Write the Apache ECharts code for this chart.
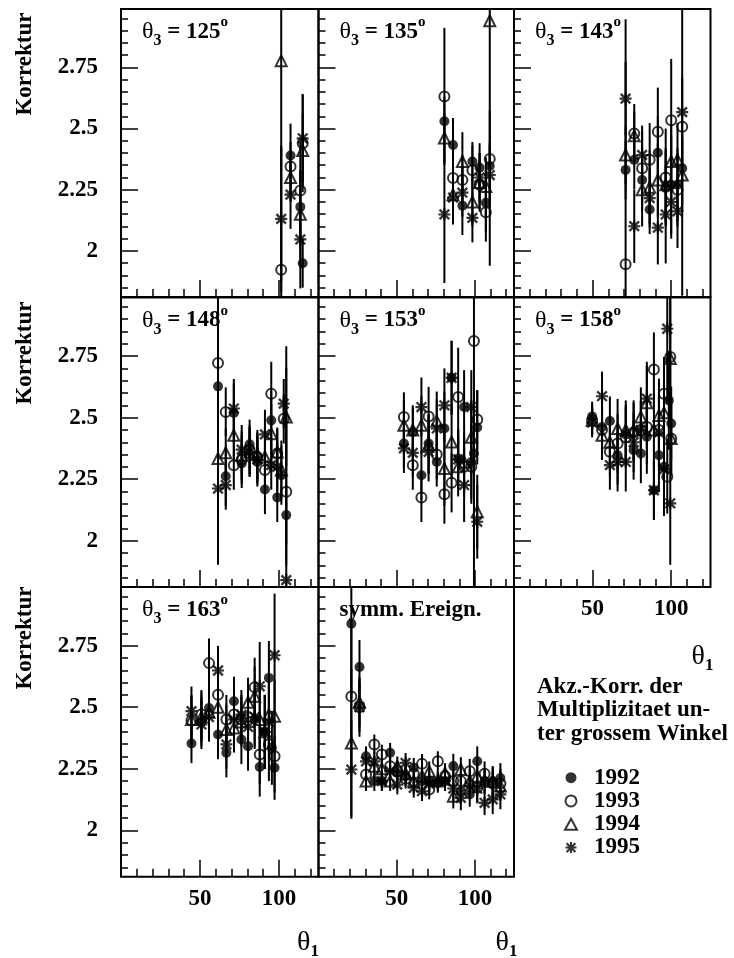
<!DOCTYPE html>
<html>
<head>
<meta charset="utf-8">
<script src="https://cdn.jsdelivr.net/npm/echarts@6/dist/echarts.min.js"></script>
<style>
  html, body { margin: 0; padding: 0; background: #fff; }
  #chart { width: 734px; height: 958px; }
</style>
</head>
<body>
<div id="chart"></div>
<script>
// each point: [theta1, Korrektur, error]
const t125_92 = [[107.3, 2.39, 0.13], [113.5, 2.18, 0.15], [115, 1.95, 0.1]]
const t125_93 = [[101.4, 1.923, 0.5], [107.3, 2.345, 0.1], [113.5, 2.247, 0.2], [115, 2.44, 0.2]]
const t125_94 = [[101.4, 2.777, 0.9], [107.3, 2.30, 0.1], [113.5, 2.15, 0.18], [115, 2.41, 0.15]]
const t125_95 = [[101.4, 2.131, 0.3], [107.3, 2.23, 0.14], [113.5, 2.047, 0.2], [115, 2.46, 0.18]]

const t135_92 = [[80.5, 2.53, 0.1], [86, 2.433, 0.11], [92, 2.185, 0.12], [98.4, 2.365, 0.08], [103, 2.34, 0.1], [107, 2.197, 0.12], [109.5, 2.347, 0.1]]
const t135_93 = [[80.5, 2.631, 0.28], [86, 2.298, 0.1], [92, 2.29, 0.1], [98.4, 2.33, 0.1], [103, 2.27, 0.1], [107, 2.158, 0.12], [109.5, 2.376, 0.2]]
const t135_94 = [[80.5, 2.461, 0.1], [86, 2.23, 0.1], [92, 2.365, 0.12], [98.4, 2.2, 0.1], [103, 2.28, 0.12], [107, 2.263, 0.12], [109.5, 2.94, 1.0]]
const t135_95 = [[80.5, 2.149, 0.28], [86, 2.218, 0.11], [92, 2.238, 0.1], [98.4, 2.135, 0.1], [103, 2.3, 0.1], [109.5, 2.31, 0.12]]

const t143_92 = [[71, 2.331, 0.12], [76.5, 2.372, 0.12], [81.5, 2.29, 0.12], [86.3, 2.169, 0.1], [91.5, 2.401, 0.15], [96.5, 2.257, 0.15], [100, 2.27, 0.2], [104, 2.27, 0.15], [107, 2.338, 0.15]]
const t143_93 = [[71, 1.946, 1.0], [76.5, 2.48, 0.12], [81.5, 2.338, 0.15], [86.3, 2.372, 0.15], [91.5, 2.487, 0.18], [96.5, 2.3, 0.2], [100, 2.534, 0.25], [104, 2.25, 0.15], [107, 2.507, 0.2]]
const t143_94 = [[71, 2.392, 0.12], [76.5, 2.47, 0.1], [81.5, 2.25, 0.15], [86.3, 2.26, 0.15], [91.5, 2.29, 0.15], [96.5, 2.27, 0.15], [100, 2.365, 0.15], [104, 2.372, 0.15], [107, 2.31, 0.15]]
const t143_95 = [[71, 2.622, 0.15], [76.5, 2.101, 0.15], [81.5, 2.392, 0.12], [86.3, 2.216, 0.12], [91.5, 2.095, 0.15], [96.5, 2.149, 0.2], [100, 2.2, 0.15], [104, 2.162, 0.15], [107, 2.567, 0.75]]

const t148_92 = [[61.4, 2.627, 0.12], [66.3, 2.262, 0.12], [71.4, 2.519, 0.12], [76.4, 2.314, 0.1], [81.4, 2.392, 0.1], [86.3, 2.32, 0.1], [91.1, 2.208, 0.1], [95.1, 2.489, 0.12], [98.9, 2.176, 0.1], [101.5, 2.266, 0.12], [104.6, 2.104, 0.12]]
const t148_93 = [[61.4, 2.722, 0.82], [66.3, 2.523, 0.1], [71.4, 2.307, 0.1], [76.4, 2.33, 0.1], [81.4, 2.37, 0.1], [86.3, 2.34, 0.1], [91.1, 2.287, 0.1], [95.1, 2.597, 0.13], [98.9, 2.354, 0.1], [103, 2.495, 0.1], [104.6, 2.199, 0.3]]
const t148_94 = [[61.4, 2.334, 0.12], [66.3, 2.357, 0.1], [71.4, 2.428, 0.1], [76.4, 2.347, 0.1], [81.4, 2.36, 0.1], [86.3, 2.35, 0.1], [91.1, 2.34, 0.1], [95.1, 2.435, 0.12], [98.9, 2.36, 0.1], [101.5, 2.287, 0.12], [104.6, 2.503, 0.2]]
const t148_95 = [[61.4, 2.212, 0.12], [66.3, 2.226, 0.1], [71.4, 2.537, 0.12], [76.4, 2.37, 0.1], [81.4, 2.36, 0.1], [86.3, 2.33, 0.1], [91.1, 2.432, 0.1], [95.1, 2.307, 0.1], [98.9, 2.3, 0.1], [103, 2.557, 0.1], [104.6, 1.84, 0.95]]

const t153_92 = [[54.6, 2.395, 0.1], [60.3, 2.442, 0.1], [65.8, 2.266, 0.1], [70.4, 2.395, 0.12], [75.6, 2.32, 0.1], [80.5, 2.456, 0.15], [85.1, 2.662, 0.15], [89.3, 2.334, 0.12], [93.1, 2.543, 0.15], [97.7, 2.32, 0.15], [99.4, 2.354, 0.12], [101.5, 2.46, 0.15]]
const t153_93 = [[54.6, 2.503, 0.1], [60.3, 2.307, 0.1], [65.8, 2.176, 0.1], [70.4, 2.505, 0.12], [75.6, 2.35, 0.1], [80.5, 2.189, 0.12], [85.1, 2.235, 0.12], [89.3, 2.584, 0.2], [93.1, 2.3, 0.12], [97.7, 2.3, 0.15], [99.4, 2.811, 1.2], [101.5, 2.492, 0.12]]
const t153_94 = [[54.6, 2.469, 0.1], [60.3, 2.45, 0.1], [65.8, 2.469, 0.12], [70.4, 2.39, 0.12], [75.6, 2.486, 0.12], [80.5, 2.293, 0.15], [85.1, 2.401, 0.15], [89.3, 2.3, 0.12], [93.1, 2.32, 0.12], [97.7, 2.42, 0.15], [101.5, 2.118, 0.15]]
const t153_95 = [[54.6, 2.375, 0.1], [60.3, 2.357, 0.1], [65.8, 2.543, 0.12], [70.4, 2.361, 0.12], [75.6, 2.456, 0.12], [80.5, 2.55, 0.15], [85.1, 2.662, 0.15], [89.3, 2.33, 0.12], [93.1, 2.226, 0.15], [97.7, 2.543, 0.15], [101.5, 2.077, 0.15]]

const t158_92 = [[49.7, 2.505, 0.06], [56, 2.462, 0.1], [61, 2.486, 0.1], [65.9, 2.347, 0.12], [71.1, 2.432, 0.12], [76.1, 2.368, 0.12], [80.7, 2.354, 0.12], [84.5, 2.422, 0.15], [89, 2.205, 0.12], [92.2, 2.347, 0.15], [95.4, 2.3, 0.2], [98.5, 2.57, 0.2], [100, 2.476, 0.15]]
const t158_93 = [[49.7, 2.49, 0.06], [56, 2.45, 0.1], [61, 2.361, 0.1], [65.9, 2.395, 0.12], [71.1, 2.42, 0.12], [76.1, 2.44, 0.12], [80.7, 2.45, 0.12], [84.5, 2.462, 0.15], [89, 2.696, 0.15], [92.2, 2.45, 0.15], [95.4, 2.597, 0.15], [97.5, 2.26, 0.15], [99.4, 2.746, 0.25], [100, 2.415, 0.15]]
const t158_94 = [[49.7, 2.489, 0.06], [56, 2.428, 0.1], [61, 2.4, 0.1], [65.9, 2.456, 0.12], [71.1, 2.45, 0.12], [76.1, 2.45, 0.12], [80.7, 2.503, 0.12], [84.5, 2.56, 0.15], [89, 2.45, 0.15], [92.2, 2.509, 0.15], [95.4, 2.52, 0.2], [99.4, 2.74, 0.25], [100, 2.415, 0.15]]
const t158_95 = [[49.7, 2.48, 0.06], [56, 2.587, 0.1], [61, 2.307, 0.1], [65.9, 2.32, 0.12], [71.1, 2.32, 0.12], [76.1, 2.4, 0.12], [80.7, 2.45, 0.12], [84.5, 2.577, 0.15], [89, 2.205, 0.12], [92.2, 2.44, 0.15], [95.4, 2.29, 0.15], [97.5, 2.861, 0.3], [99.4, 2.152, 0.25]]

const t163_92 = [[44.6, 2.353, 0.08], [50.9, 2.44, 0.1], [55.7, 2.497, 0.1], [61.4, 2.389, 0.1], [66.7, 2.315, 0.1], [71.5, 2.524, 0.1], [76.2, 2.369, 0.1], [80.4, 2.342, 0.1], [84.6, 2.45, 0.12], [87.8, 2.257, 0.12], [91, 2.4, 0.15], [93.6, 2.619, 0.15], [95.5, 2.335, 0.15], [97.2, 2.254, 0.13]]
const t163_93 = [[44.6, 2.446, 0.1], [50.9, 2.47, 0.1], [55.7, 2.679, 0.1], [61.4, 2.551, 0.1], [66.7, 2.45, 0.1], [71.5, 2.47, 0.1], [76.2, 2.45, 0.1], [80.4, 2.46, 0.1], [84.6, 2.581, 0.12], [87.8, 2.308, 0.12], [93.6, 2.35, 0.15], [97.2, 2.301, 0.15]]
const t163_94 = [[44.6, 2.45, 0.1], [50.9, 2.46, 0.1], [55.7, 2.48, 0.1], [61.4, 2.5, 0.1], [66.7, 2.41, 0.1], [71.5, 2.416, 0.1], [76.2, 2.44, 0.1], [80.4, 2.52, 0.1], [84.6, 2.545, 0.12], [87.8, 2.45, 0.12], [91, 2.4, 0.15], [93.6, 2.47, 0.15], [97.2, 2.463, 0.15]]
const t163_95 = [[44.6, 2.484, 0.1], [50.9, 2.43, 0.1], [55.7, 2.46, 0.1], [61.4, 2.649, 0.1], [66.7, 2.349, 0.1], [71.5, 2.45, 0.1], [76.2, 2.47, 0.1], [80.4, 2.42, 0.1], [84.6, 2.46, 0.12], [87.8, 2.585, 0.18], [91, 2.4, 0.15], [93.6, 2.44, 0.15], [97.2, 2.711, 0.25]]

const symm_92 = [[21, 2.839, 0.3], [26.2, 2.663, 0.11], [30.4, 2.301, 0.04], [35.7, 2.2, 0.04], [40.5, 2.2, 0.04], [45.8, 2.315, 0.04], [50.4, 2.233, 0.04], [55.7, 2.22, 0.04], [60.9, 2.254, 0.04], [66.2, 2.2, 0.04], [70.8, 2.2, 0.04], [76.3, 2.193, 0.04], [80.9, 2.2, 0.04], [86.2, 2.261, 0.05], [91, 2.16, 0.05], [96.7, 2.146, 0.05], [101.5, 2.281, 0.06], [106.2, 2.2, 0.05], [111.4, 2.2, 0.06], [116.3, 2.213, 0.06]]
const symm_93 = [[21, 2.544, 0.3], [26.2, 2.5, 0.1], [30.4, 2.227, 0.04], [35.7, 2.349, 0.04], [40.5, 2.308, 0.04], [45.8, 2.26, 0.04], [50.4, 2.24, 0.04], [55.7, 2.21, 0.04], [60.9, 2.23, 0.04], [66.2, 2.27, 0.04], [70.8, 2.166, 0.04], [76.3, 2.281, 0.04], [80.9, 2.22, 0.04], [86.2, 2.2, 0.05], [91, 2.2, 0.05], [96.7, 2.24, 0.05], [101.5, 2.173, 0.06], [106.2, 2.23, 0.05], [111.4, 2.19, 0.06], [116.3, 2.19, 0.06]]
const symm_94 = [[21, 2.355, 0.3], [26.2, 2.52, 0.1], [30.4, 2.2, 0.04], [35.7, 2.26, 0.04], [40.5, 2.25, 0.04], [45.8, 2.2, 0.04], [50.4, 2.26, 0.04], [55.7, 2.23, 0.04], [60.9, 2.2, 0.04], [66.2, 2.22, 0.04], [70.8, 2.24, 0.04], [76.3, 2.2, 0.04], [80.9, 2.233, 0.04], [86.2, 2.139, 0.05], [91, 2.247, 0.05], [96.7, 2.2, 0.05], [101.5, 2.22, 0.06], [106.2, 2.2, 0.05], [111.4, 2.2, 0.06], [116.3, 2.18, 0.06]]
const symm_95 = [[21, 2.247, 0.2], [26.2, 2.5, 0.12], [30.4, 2.28, 0.04], [35.7, 2.28, 0.04], [40.5, 2.2, 0.04], [45.8, 2.24, 0.04], [50.4, 2.186, 0.04], [55.7, 2.274, 0.04], [60.9, 2.173, 0.04], [66.2, 2.159, 0.04], [70.8, 2.19, 0.04], [76.3, 2.2, 0.04], [80.9, 2.2, 0.04], [86.2, 2.17, 0.05], [91, 2.132, 0.05], [96.7, 2.18, 0.05], [101.5, 2.17, 0.06], [106.2, 2.112, 0.05], [111.4, 2.126, 0.06], [116.3, 2.146, 0.06]]

const years = ['1992', '1993', '1994', '1995']
const panelLabels = ['125', '135', '143', '148', '153', '158', '163', 'symm. Ereign.']
const panelSets = [
  [t125_92, t125_93, t125_94, t125_95],
  [t135_92, t135_93, t135_94, t135_95],
  [t143_92, t143_93, t143_94, t143_95],
  [t148_92, t148_93, t148_94, t148_95],
  [t153_92, t153_93, t153_94, t153_95],
  [t158_92, t158_93, t158_94, t158_95],
  [t163_92, t163_93, t163_94, t163_95],
  [symm_92, symm_93, symm_94, symm_95]
]
const xMajorTicks = [50, 100]
const xMinorTicks = [10, 20, 30, 40, 60, 70, 80, 90, 110, 120]
const yMajorTicks = [2, 2.25, 2.5, 2.75]
const yMinorTicks = [1.85, 1.9, 1.95, 2.05, 2.1, 2.15, 2.2, 2.3, 2.35, 2.4, 2.45, 2.55, 2.6, 2.65, 2.7, 2.8, 2.85, 2.9, 2.95]

const X_MIN = 0, X_MAX = 125
const Y_MIN = 1.812, Y_MAX = 2.988
const FONT = '"Liberation Serif", "DejaVu Serif", serif'

// panel frame positions
const colLeft = [121, 318.5, 514]
const colWidth = [197.5, 195.5, 196.5]
const rowTop = [9, 297.5, 587]
const rowHeight = [288, 289.5, 289.7]
// panels that show the theta1 tick labels
const xLabelPanels = [5, 6, 7]

// 8-armed asterisk
const ASTER = 'path://M41 0 L59 0 L59 100 L41 100 Z M0 41 L100 41 L100 59 L0 59 Z M3 17 L17 3 L97 83 L83 97 Z M83 3 L97 17 L17 97 L3 83 Z'
const markers = [
  { symbol: 'circle', size: 10, itemStyle: { color: '#000' } },
  { symbol: 'circle', size: 10, itemStyle: { color: 'rgba(0,0,0,0)', borderColor: '#000', borderWidth: 2 } },
  { symbol: 'triangle', size: 11, itemStyle: { color: 'rgba(0,0,0,0)', borderColor: '#000', borderWidth: 2 } },
  { symbol: ASTER, size: 12, itemStyle: { color: '#000' } }
]

const tickStyle = { color: '#000', width: 1.5 }
const labelFont = { color: '#000', fontFamily: FONT, fontWeight: 'bold', fontSize: 23 }

const richTitle = {
  th: { fontFamily: FONT, fontSize: 24, lineHeight: 34, verticalAlign: 'middle', fill: '#000' },
  sub: { fontFamily: FONT, fontWeight: 'bold', fontSize: 16, lineHeight: 15, verticalAlign: 'bottom', fill: '#000' },
  b: { fontFamily: FONT, fontWeight: 'bold', fontSize: 23, lineHeight: 34, verticalAlign: 'middle', fill: '#000' },
  sup: { fontFamily: FONT, fontWeight: 'bold', fontSize: 15, lineHeight: 22, verticalAlign: 'top', fill: '#000' }
}
const richAxis = {
  th: { fontFamily: FONT, fontSize: 28, lineHeight: 34, verticalAlign: 'middle', fill: '#000' },
  sub: { fontFamily: FONT, fontWeight: 'bold', fontSize: 17, lineHeight: 16, verticalAlign: 'bottom', fill: '#000' }
}

function errorBars(params, api) {
  const x = api.value(0), y = api.value(1), e = api.value(2)
  const lo = Math.max(y - e, Y_MIN)
  const hi = Math.min(y + e, Y_MAX)
  const p1 = api.coord([x, lo])
  const p2 = api.coord([x, hi])
  return {
    type: 'line',
    shape: { x1: p1[0], y1: p1[1], x2: p2[0], y2: p2[1] },
    style: { stroke: '#000', lineWidth: 2 }
  }
}

const grids = [], xAxes = [], yAxes = [], series = [], graphics = []

panelSets.forEach((sets, i) => {
  const col = i % 3, row = Math.floor(i / 3)
  grids.push({
    left: colLeft[col], top: rowTop[row], width: colWidth[col], height: rowHeight[row],
    show: true, borderColor: '#000', borderWidth: 2, backgroundColor: 'transparent',
    outerBoundsMode: 'none'
  })
  const showX = xLabelPanels.includes(i)
  xAxes.push({
    gridIndex: i, type: 'value', min: X_MIN, max: X_MAX, position: 'bottom',
    axisLine: { show: false }, splitLine: { show: false },
    axisTick: { inside: true, length: 17, customValues: xMajorTicks, lineStyle: tickStyle },
    axisLabel: Object.assign({ show: showX, customValues: xMajorTicks, margin: 11 }, labelFont)
  })
  xAxes.push({
    gridIndex: i, type: 'value', min: X_MIN, max: X_MAX, position: 'bottom',
    axisLine: { show: false }, splitLine: { show: false },
    axisTick: { inside: true, length: 8, customValues: xMinorTicks, lineStyle: tickStyle },
    axisLabel: { show: false }
  })
  yAxes.push({
    gridIndex: i, type: 'value', min: Y_MIN, max: Y_MAX, position: 'left',
    axisLine: { show: false }, splitLine: { show: false },
    axisTick: { inside: true, length: 17, customValues: yMajorTicks, lineStyle: tickStyle },
    axisLabel: Object.assign({ show: col === 0, customValues: yMajorTicks, margin: 23 }, labelFont)
  })
  yAxes.push({
    gridIndex: i, type: 'value', min: Y_MIN, max: Y_MAX, position: 'left',
    axisLine: { show: false }, splitLine: { show: false },
    axisTick: { inside: true, length: 7, customValues: yMinorTicks, lineStyle: tickStyle },
    axisLabel: { show: false }
  })

  series.push({
    type: 'custom', name: 'err' + i, xAxisIndex: 2 * i, yAxisIndex: 2 * i,
    data: [].concat(...sets), encode: { x: 0, y: 1 },
    renderItem: errorBars, silent: true, z: 1
  })
  sets.forEach((set, k) => {
    series.push({
      type: 'scatter', name: years[k], xAxisIndex: 2 * i, yAxisIndex: 2 * i,
      data: set.map(d => [d[0], d[1]]),
      symbol: markers[k].symbol, symbolSize: markers[k].size, symbolKeepAspect: true,
      itemStyle: markers[k].itemStyle, silent: true, z: 2 + k,
      emphasis: { disabled: true }
    })
  })

  // panel label
  const label = panelLabels[i]
  graphics.push({
    type: 'text', x: colLeft[col] + 21, y: rowTop[row] + 6, silent: true,
    style: {
      text: i < 7 ? '{th|θ}{sub|3}{b| = ' + label + '}{sup|o}' : '{b|' + label + '}',
      rich: richTitle, align: 'left', verticalAlign: 'top'
    }
  })
})

// y axis titles
const korrY = [64, 353, 638]
korrY.forEach(y => {
  graphics.push({
    type: 'text', x: 25, y: y, rotation: Math.PI / 2, silent: true,
    style: { text: 'Korrektur', fontFamily: FONT, fontWeight: 'bold', fontSize: 23, fill: '#000', align: 'center', verticalAlign: 'middle' }
  })
})

// theta1 axis titles
const thetaPos = [[297, 926], [495.5, 926], [691.5, 640]]
thetaPos.forEach(p => {
  graphics.push({
    type: 'text', x: p[0], y: p[1], silent: true,
    style: { text: '{th|θ}{sub|1}', rich: richAxis, align: 'left', verticalAlign: 'top' }
  })
})

// legend header
graphics.push({
  type: 'text', x: 537, y: 675, silent: true,
  style: {
    text: 'Akz.-Korr. der\nMultiplizitaet un-\nter grossem Winkel',
    fontFamily: FONT, fontWeight: 'bold', fontSize: 23, lineHeight: 23.5, fill: '#000',
    align: 'left', verticalAlign: 'top'
  }
})

const chart = echarts.init(document.getElementById('chart'), null, { renderer: 'canvas' })
chart.setOption({
  backgroundColor: '#fff',
  animation: false,
  grid: grids,
  xAxis: xAxes,
  yAxis: yAxes,
  legend: {
    data: years, orient: 'vertical', left: 559, top: 761,
    itemWidth: 12, itemHeight: 11, itemGap: 0, selectedMode: false,
    textStyle: { color: '#000', fontFamily: FONT, fontWeight: 'bold', fontSize: 23, lineHeight: 23.3, padding: [0, 0, 0, 12] }
  },
  series: series,
  graphic: graphics
})
</script>
</body>
</html>
